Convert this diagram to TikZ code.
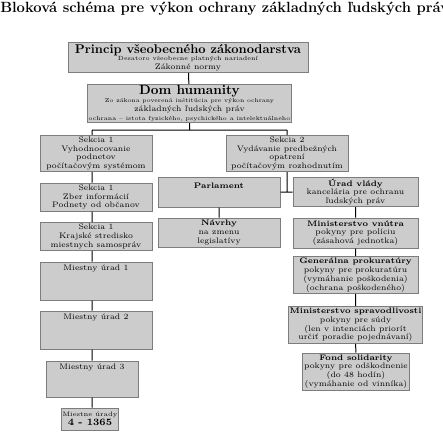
\documentclass[tikz,border=0pt]{standalone}
\usepackage{tikz}
\usetikzlibrary{positioning,calc}
\definecolor{boxfill}{RGB}{204,204,204}
\definecolor{boxedge}{RGB}{125,125,125}
\tikzset{
  blok/.style={draw=boxedge,fill=boxfill,line width=0.75pt,inner sep=1pt,align=center,
    font=\fontsize{6}{6.6}\selectfont},
  sz/.style 2 args={minimum width=#1*0.75pt,minimum height=#2*0.75pt},
  topalign/.style={text height=5pt,text depth=#1},
  spoj/.style={draw,line width=0.75pt},
}
\begin{document}
\begin{tikzpicture}[x=0.75pt,y=-0.75pt]
\useasboundingbox (0,0) rectangle (443,432);

\node[anchor=base west,inner sep=0,font=\fontsize{11.1}{13}\selectfont\bfseries] (title) at (0,12.5)
  {Bloková schéma pre výkon ochrany základných ľudských práv};

\node[blok,sz={240}{29}] (princip) at (188,57.5)
  {{\fontsize{9.5}{10}\selectfont\bfseries Princip všeobecného zákonodarstva}\\[-1pt]
   {\fontsize{4.5}{5}\selectfont Desatoro všeobecne platných nariadení}\\
   Zákonné normy};
\node[blok,sz={203}{37}] (dom) at (189.5,103.5)
  {{\fontsize{10}{10}\selectfont\bfseries Dom humanity}\\[-1pt]
   {\fontsize{4.3}{5}\selectfont Zo zákona poverená inštitúcia pre výkon ochrany}\\
   základných ľudských práv\\
   {\fontsize{4.4}{5.2}\selectfont ochrana – istota fyzického, psychického a intelektuálneho}};

% lava vetva
\node[blok,sz={112}{35}] (s1a) at (96,153.5) {Sekcia 1\\Vyhodnocovanie\\podnetov\\počítačovým systémom};
\node[blok,sz={112}{28}] (s1b) at (96,197) {Sekcia 1\\Zber informácií\\Podnety od občanov};
\node[blok,sz={112}{27}] (s1c) at (96,236.5) {Sekcia 1\\Krajské stredisko\\miestnych samospráv};
\node[blok,sz={112}{38},topalign=21pt] (mu1) at (96,281) {Miestny úrad 1};
\node[blok,sz={112}{38},topalign=21pt] (mu2) at (96,330) {Miestny úrad 2};
\node[blok,sz={92}{36},topalign=19.5pt] (mu3) at (92,379) {Miestny úrad 3};
\node[blok,sz={52}{22},inner sep=0.5pt] (mu4) at (90,419)
  {{\fontsize{4.8}{5.6}\selectfont Miestne úrady}\\{\fontsize{7.3}{8}\selectfont\bfseries 4 - 1365}};

% prava vetva
\node[blok,sz={122}{35}] (s2) at (287,153.5) {Sekcia 2\\Vydávanie predbežných\\opatrení\\počítačovým rozhodnutím};
\node[blok,sz={122}{30},topalign=10pt] (parl) at (219,192) {\textbf{Parlament}};
\node[blok,sz={122}{29}] (navrhy) at (219,232.5) {\textbf{Návrhy}\\na zmenu\\legislatívy};

\node[blok,sz={125}{28}] (uv) at (355.5,192) {\textbf{Úrad vlády}\\kancelária pre ochranu\\ľudských práv};
\node[blok,sz={125}{30}] (mv) at (355.5,233) {\textbf{Ministerstvo vnútra}\\pokyny pre políciu\\(zásahová jednotka)};
\node[blok,sz={125}{34}] (gp) at (355.5,275) {\textbf{Generálna prokuratúry}\\pokyny pre prokuratúru\\(vymáhanie poškodenia)\\(ochrana poškodeného)};
\node[blok,sz={125}{36}] (ms) at (355.5,325) {\textbf{Ministerstvo spravodlivosti}\\pokyny pre súdy\\(len v intenciách priorít\\určiť poradie pojednávaní)};
\node[blok,sz={96}{37}] (fs) at (356,371.5) {\textbf{Fond solidarity}\\pokyny pre odškodnenie\\(do 48 hodín)\\(vymáhanie od vinníka)};

\coordinate (busL) at (92,130);
\coordinate (busR) at (287,130);

\path[spoj]
  (princip) -- (dom)
  (dom.south) -- (dom.south |- busL)
  (busL) -- (busR)
  (busL) -- (busL |- s1a.north)
  (busR) -- (s2.north)
  (busL |- s1a.south) -- (busL |- s1b.north)
  (busL |- s1b.south) -- (busL |- s1c.north)
  (busL |- s1c.south) -- (busL |- mu1.north)
  (busL |- mu1.south) -- (busL |- mu2.north)
  (busL |- mu2.south) -- (busL |- mu3.north)
  (busL |- mu3.south) -- (busL |- mu4.north)
  (s2.south) -- (s2.south |- parl.east)
  (parl.east) -- (uv.west)
  (parl) -- (navrhy)
  (uv) -- (mv)
  (mv) -- (gp)
  (gp) -- (ms)
  (ms) -- (fs);
\end{tikzpicture}
\end{document}
